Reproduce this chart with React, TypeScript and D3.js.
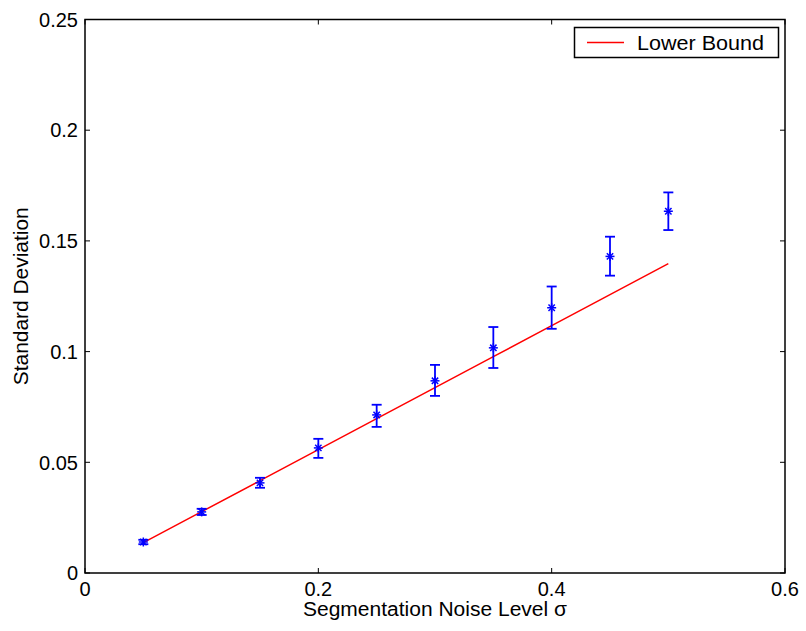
import React from "react";
import * as d3 from "d3";

const noiseLevels = [0.05, 0.1, 0.15, 0.2, 0.25, 0.3, 0.35, 0.4, 0.45, 0.5];
const meanStd = [0.0140, 0.0276, 0.0407, 0.0565, 0.0714, 0.0868, 0.1017, 0.1198, 0.1430, 0.1634];
const errUpper = [0.0150, 0.0290, 0.0430, 0.0606, 0.0760, 0.0940, 0.1111, 0.1294, 0.1519, 0.1719];
const errLower = [0.0130, 0.0262, 0.0385, 0.0520, 0.0660, 0.0800, 0.0926, 0.1103, 0.1343, 0.1549];
const lowerBound = [0.0137, 0.0277, 0.0417, 0.0557, 0.0697, 0.0837, 0.0977, 0.1117, 0.1257, 0.1397];
const xTicks = [0, 0.2, 0.4, 0.6];
const yTicks = [0, 0.05, 0.1, 0.15, 0.2, 0.25];

const W = 806, H = 631;
const L = 85, R = 785, T = 19.5, B = 573;
const FONT = "'Liberation Sans', Arial, Helvetica, sans-serif";

export default function App() {
  const x = d3.scaleLinear().domain([0, 0.6]).range([L, R]);
  const y = d3.scaleLinear().domain([0, 0.25]).range([B, T]);
  const line = d3.line<number>().x((_, i) => x(noiseLevels[i])).y((d) => y(d));
  const tk = 5;
  const fs = 20;
  const star = (cx: number, cy: number, k: number) => {
    const r = 4.5;
    const parts = [];
    for (let a = 0; a < 4; a++) {
      const ang = (a * Math.PI) / 4;
      parts.push(
        <line key={a} x1={cx - r * Math.cos(ang)} y1={cy - r * Math.sin(ang)} x2={cx + r * Math.cos(ang)} y2={cy + r * Math.sin(ang)} stroke="#0000ff" strokeWidth={1.5} />
      );
    }
    return <g key={k}>{parts}</g>;
  };
  return (
    <svg width={W} height={H} style={{ position: "absolute", left: 0, top: 0, background: "#fff" }}>
      <rect x={0} y={0} width={W} height={H} fill="#fff" />
      {xTicks.map((t, i) => (
        <g key={"xt" + i}>
          <line x1={x(t)} x2={x(t)} y1={B} y2={B - tk} stroke="#000" strokeWidth={1} />
          <line x1={x(t)} x2={x(t)} y1={T} y2={T + tk} stroke="#000" strokeWidth={1} />
          <text x={x(t)} y={596} textAnchor="middle" fontFamily={FONT} fontSize={fs}>{t === 0 ? "0" : String(t)}</text>
        </g>
      ))}
      {yTicks.map((t, i) => (
        <g key={"yt" + i}>
          <line x1={L} x2={L + tk} y1={y(t)} y2={y(t)} stroke="#000" strokeWidth={1} />
          <line x1={R} x2={R - tk} y1={y(t)} y2={y(t)} stroke="#000" strokeWidth={1} />
          <text x={78} y={y(t)} dy="0.36em" textAnchor="end" fontFamily={FONT} fontSize={fs}>{t === 0 ? "0" : String(t)}</text>
        </g>
      ))}
      <path d={line(lowerBound) || ""} fill="none" stroke="#ff0000" strokeWidth={1.5} />
      {noiseLevels.map((n, i) => {
        const cx = x(n);
        const cw = 5;
        return (
          <g key={"eb" + i} stroke="#0000ff" strokeWidth={1.8}>
            <line x1={cx} x2={cx} y1={y(errUpper[i])} y2={y(errLower[i])} />
            <line x1={cx - cw} x2={cx + cw} y1={y(errUpper[i])} y2={y(errUpper[i])} />
            <line x1={cx - cw} x2={cx + cw} y1={y(errLower[i])} y2={y(errLower[i])} />
          </g>
        );
      })}
      {noiseLevels.map((n, i) => star(x(n), y(meanStd[i]), i))}
      <rect x={L} y={T} width={R - L} height={B - T} fill="none" stroke="#000" strokeWidth={1.5} />
      <rect x={574.5} y={27.5} width={204} height={30} fill="#fff" stroke="#000" strokeWidth={1.5} />
      <line x1={587} x2={624} y1={42.5} y2={42.5} stroke="#ff0000" strokeWidth={1.5} />
      <text x={637} y={42.5} dy="0.36em" fontFamily={FONT} fontSize={20} textLength={127} lengthAdjust="spacingAndGlyphs">Lower Bound</text>
      <text x={(L + R) / 2 - 132} y={616} fontFamily={FONT} fontSize={20} textLength={264} lengthAdjust="spacingAndGlyphs">Segmentation Noise Level σ</text>
      <text transform={`translate(28, ${(T + B) / 2 + 89}) rotate(-90)`} fontFamily={FONT} fontSize={20} textLength={178} lengthAdjust="spacingAndGlyphs">Standard Deviation</text>
    </svg>
  );
}
